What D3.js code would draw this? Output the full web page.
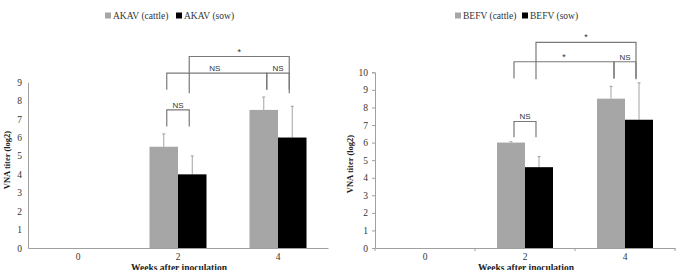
<!DOCTYPE html>
<html>
<head>
<meta charset="utf-8">
<script src="https://cdn.jsdelivr.net/npm/d3@7"></script>
<style>
  body { margin: 0; background: #fff; }
  svg { display: block; }
  svg text { font-family: "Liberation Serif", "Times New Roman", Times, serif; }
  svg text.sig { font-family: "Liberation Sans", Arial, sans-serif; }
</style>
</head>
<body>
<svg id="chart" width="684" height="270"></svg>
<script>
// weeks after inoculation
const weeks = ['0', '2', '4']
const groups = ['cattle', 'sow']

// AKAV panel
const akavCattle = [0, 5.5, 7.5]
const akavCattleErr = [0, 6.2, 8.2]
const akavSow = [0, 4.0, 6.0]
const akavSowErr = [0, 5.0, 7.7]
const akavTicks = [0, 1, 2, 3, 4, 5, 6, 7, 8, 9]

// BEFV panel
const befvCattle = [0, 6.0, 8.5]
const befvCattleErr = [0, 6.05, 9.2]
const befvSow = [0, 4.6, 7.3]
const befvSowErr = [0, 5.2, 9.4]
const befvTicks = [0, 1, 2, 3, 4, 5, 6, 7, 8, 9, 10]

// significance brackets: [from week, group, to week, group, label, top value, leg end value]
const akavBrackets = [
  ['2', 'cattle', '2', 'sow', 'NS', 7.5, 6.6],
  ['2', 'cattle', '4', 'cattle', 'NS', 9.5, 8.6],
  ['4', 'cattle', '4', 'sow', 'NS', 9.5, 8.6],
  ['2', 'sow', '4', 'sow', '*', 10.4, 8.4]
]
const befvBrackets = [
  ['2', 'cattle', '2', 'sow', 'NS', 7.2, 6.3],
  ['2', 'cattle', '4', 'cattle', '*', 10.6, 9.65],
  ['4', 'cattle', '4', 'sow', 'NS', 10.6, 9.65],
  ['2', 'sow', '4', 'sow', '*', 11.7, 9.6]
]

const colors = { cattle: '#a6a6a6', sow: '#000000' }
const svg = d3.select('#chart')

function panel(opt) {
  const g = svg.append('g')
  const x = d3.scaleBand().domain(weeks).range([opt.x0, opt.x1])
  const bw = x.bandwidth()
  const xs = d3.scaleBand().domain(groups).range([bw / 2 - opt.barW, bw / 2 + opt.barW])
  const y = d3.scaleLinear().domain([0, opt.yMax]).range([opt.y0, opt.y1])

  // y axis
  const yAxis = d3.axisLeft(y).tickValues(opt.ticks).tickSize(opt.ticks2 ? 3 : 0).tickPadding(opt.ticks2 ? 4 : 6)
  const ya = g.append('g').attr('transform', 'translate(' + opt.x0 + ',0)').call(yAxis)
  ya.attr('font-family', null)
  ya.select('.domain').attr('stroke', '#a0a0a0')
  ya.selectAll('.tick line').attr('stroke', '#a0a0a0')
  ya.selectAll('text').attr('font-size', 9.5).attr('fill', '#333')

  // x axis
  const xAxis = d3.axisBottom(x).tickSize(0).tickPadding(5)
  const xa = g.append('g').attr('transform', 'translate(0,' + opt.y0 + ')').call(xAxis)
  xa.attr('font-family', null)
  xa.select('.domain').attr('stroke', '#a0a0a0')
  xa.selectAll('text').attr('font-size', 9.5).attr('fill', '#333')
  if (opt.ticks2) {
    // tick marks between categories
    xa.selectAll('.sep').data([opt.x0].concat(weeks.map(w => x(w) + bw)))
      .enter().append('line')
      .attr('x1', d => d).attr('x2', d => d)
      .attr('y1', 0).attr('y2', 3)
      .attr('stroke', '#a0a0a0')
  }

  // bars
  const series = { cattle: opt.cattle, sow: opt.sow }
  const errs = { cattle: opt.cattleErr, sow: opt.sowErr }
  groups.forEach(grp => {
    weeks.forEach((w, i) => {
      const v = series[grp][i]
      if (v <= 0) return
      const bx = x(w) + xs(grp)
      // error bar behind bar
      const cx = bx + xs.bandwidth() / 2
      g.append('line')
        .attr('x1', cx).attr('x2', cx)
        .attr('y1', y(v)).attr('y2', y(errs[grp][i]))
        .attr('stroke', '#8c8c8c').attr('stroke-width', 0.8)
      g.append('line')
        .attr('x1', cx - 1.5).attr('x2', cx + 1.5)
        .attr('y1', y(errs[grp][i])).attr('y2', y(errs[grp][i]))
        .attr('stroke', '#8c8c8c').attr('stroke-width', 0.8)
      g.append('rect')
        .attr('x', bx).attr('y', y(v))
        .attr('width', xs.bandwidth()).attr('height', opt.y0 - y(v))
        .attr('fill', colors[grp])
    })
  })

  // brackets
  const cxOf = (w, grp) => x(w) + xs(grp) + xs.bandwidth() / 2 + (grp === 'cattle' ? 3 : -3)
  opt.brackets.forEach(b => {
    const xa1 = cxOf(b[0], b[1])
    const xa2 = cxOf(b[2], b[3])
    const yt = y(b[5])
    const yl = y(b[6])
    g.append('path')
      .attr('d', 'M' + xa1 + ',' + yl + 'V' + yt + 'H' + xa2 + 'V' + yl)
      .attr('fill', 'none').attr('stroke', '#7a7a7a').attr('stroke-width', 1.2)
    g.append('text')
      .attr('class', 'sig')
      .attr('x', (xa1 + xa2) / 2 + (b[4] === 'NS' && b[0] !== b[2] ? -2 : 0))
      .attr('y', yt - 2)
      .attr('text-anchor', 'middle')
      .attr('font-size', b[4] === '*' ? 9 : 8)
      .attr('fill', '#333')
      .text(b[4])
  })

  // axis titles
  g.append('text')
    .attr('transform', 'translate(' + opt.yTitleX + ',' + opt.yTitleY + ') rotate(-90)')
    .attr('text-anchor', 'middle')
    .attr('font-weight', 'bold')
    .attr('font-size', 8.5)
    .attr('fill', '#222')
    .text('VNA titer (log2)')
  g.append('text')
    .attr('x', (opt.x0 + opt.x1) / 2 + 1)
    .attr('y', 271)
    .attr('text-anchor', 'middle')
    .attr('font-weight', 'bold')
    .attr('font-size', 9.5)
    .attr('fill', '#222')
    .text('Weeks after inoculation')

  // legend
  const lg = g.append('g').attr('transform', 'translate(' + opt.legX + ',19)')
  const items = [[opt.name + ' (cattle)', colors.cattle, 0], [opt.name + ' (sow)', colors.sow, opt.legGap]]
  items.forEach(it => {
    lg.append('rect').attr('x', it[2]).attr('y', -6.5).attr('width', 6).attr('height', 6).attr('fill', it[1])
    lg.append('text').attr('x', it[2] + 8).attr('y', 0)
      .attr('font-size', 9.5).attr('fill', '#333').text(it[0])
  })
}

panel({
  name: 'AKAV', x0: 28, x1: 328, y0: 248, y1: 82.3, yMax: 9, barW: 28.5,
  ticks: akavTicks, ticks2: false,
  cattle: akavCattle, cattleErr: akavCattleErr, sow: akavSow, sowErr: akavSowErr,
  brackets: akavBrackets, yTitleX: 10, yTitleY: 160, legX: 105, legGap: 71
})
panel({
  name: 'BEFV', x0: 375, x1: 675, y0: 248, y1: 72.3, yMax: 10, barW: 28,
  ticks: befvTicks, ticks2: true,
  cattle: befvCattle, cattleErr: befvCattleErr, sow: befvSow, sowErr: befvSowErr,
  brackets: befvBrackets, yTitleX: 353, yTitleY: 164, legX: 455, legGap: 67
})
</script>
</body>
</html>
